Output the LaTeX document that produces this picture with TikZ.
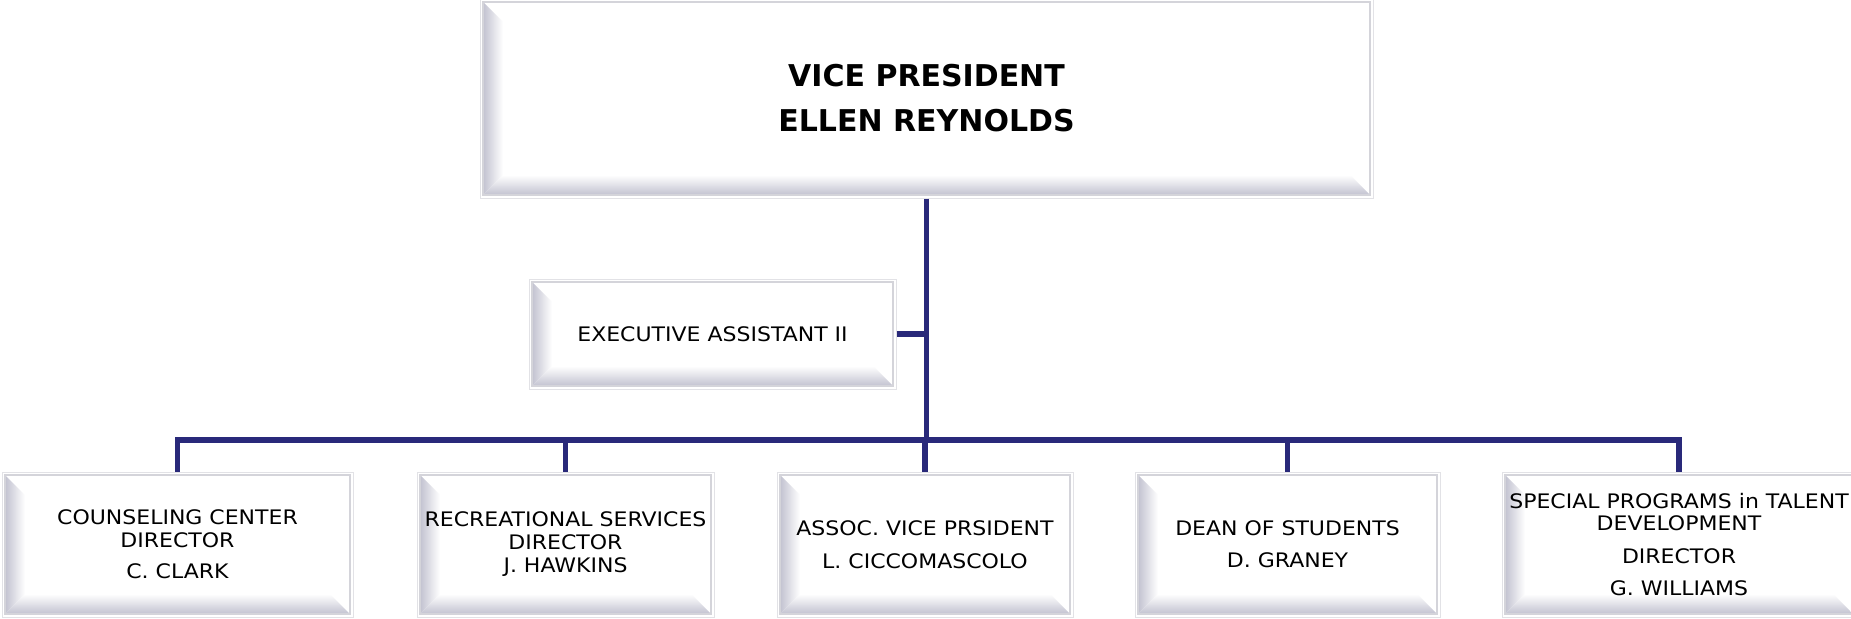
\documentclass[tikz,border=0pt]{standalone}
\usepackage{fontspec}
\usepackage{tikz}
\setmainfont{DejaVu Sans}
\newfontfamily\labelfont{DejaVu Sans}[FakeStretch=1.1]

\definecolor{navy}{RGB}{41,41,122}
\definecolor{rimgrey}{RGB}{226,226,230}
\definecolor{framegrey}{RGB}{212,212,218}
\definecolor{bevelgrey}{RGB}{194,194,208}

\tikzset{
  orgline/.style={draw=navy, line width=5.5pt},
  bevelbox/.style={draw=rimgrey, line width=1pt, fill=white, inner sep=0pt, align=center,
    font=\labelfont\fontsize{20}{23}\selectfont,
    path picture={
      \coordinate (bb1) at ([shift={(3pt,3pt)}]path picture bounding box.south west);
      \coordinate (bb2) at ([shift={(-3pt,-3pt)}]path picture bounding box.north east);
      \coordinate (bb3) at (bb2 |- bb1);
      \shade[left color=bevelgrey, right color=white]
        (bb1) -- (bb1 |- bb2) -- ++(20pt,-20pt) -- ([shift={(20pt,20pt)}]bb1) -- cycle;
      \shade[top color=white, bottom color=bevelgrey]
        (bb1) -- ([shift={(20pt,20pt)}]bb1) -- ([shift={(-20pt,20pt)}]bb3) -- (bb3) -- cycle;
      \draw[framegrey, line width=2pt] (bb1) rectangle (bb2);
    }}
}

\begin{document}
\begin{tikzpicture}[x=1pt, y=-1pt]
  \useasboundingbox (0,0) rectangle (1851,618);

  \node[bevelbox, minimum width=893pt, minimum height=199pt,
        font=\bfseries\fontsize{30}{45}\selectfont] (vp) at (926.5,98.5) {VICE PRESIDENT\\ELLEN REYNOLDS};
  \node[bevelbox, minimum width=367pt, minimum height=110pt] (ea) at (712.5,334) {EXECUTIVE ASSISTANT II};

  % directors
  \node[bevelbox, minimum width=351pt, minimum height=145pt] (cc) at (177.5,544.5) {COUNSELING CENTER\\DIRECTOR\\[8pt]C. CLARK};
  \node[bevelbox, minimum width=297pt, minimum height=145pt] (rs) at (565.5,544.5) {RECREATIONAL SERVICES\\DIRECTOR\\J. HAWKINS};
  \node[bevelbox, minimum width=296pt, minimum height=145pt] (avp) at (925,544.5) {ASSOC. VICE PRSIDENT\\[10pt]L. CICCOMASCOLO};
  \node[bevelbox, minimum width=305pt, minimum height=145pt] (dos) at (1287.5,544.5) {DEAN OF STUDENTS\\[9pt]D. GRANEY};
  \node[bevelbox, minimum width=354pt, minimum height=145pt] (sp) at (1679,544.5) {SPECIAL PROGRAMS in TALENT\\[-1pt]DEVELOPMENT\\[10pt]DIRECTOR\\[9pt]G. WILLIAMS};

  \coordinate (bus) at (927,440);
  \draw[orgline] (vp.south) -- (vp.south |- bus);
  \draw[orgline] (ea) -- (ea -| vp.south);
  \draw[orgline] (cc.north) |- (bus) -| (sp.north);
  \foreach \n in {rs,avp,dos}
    \draw[orgline] (\n.north |- bus) -- (\n.north);
\end{tikzpicture}
\end{document}
